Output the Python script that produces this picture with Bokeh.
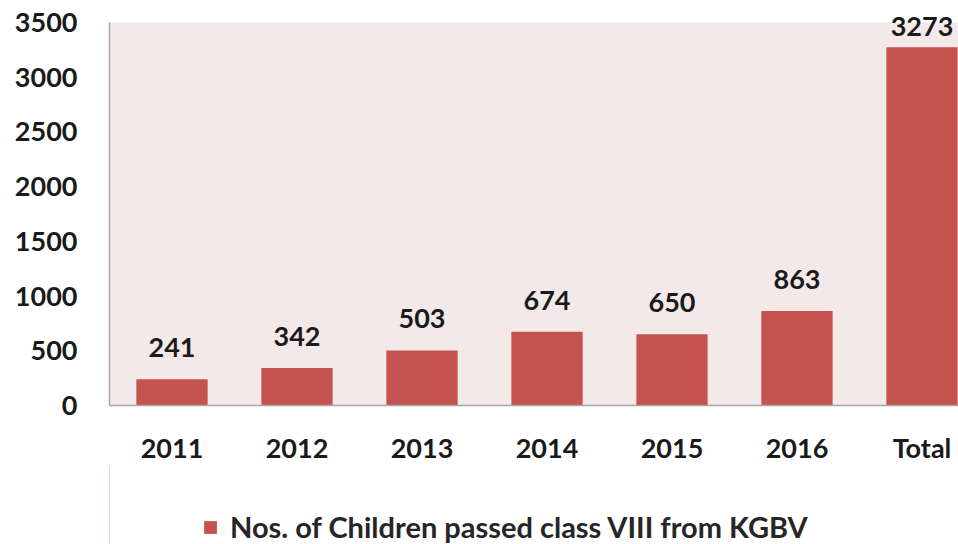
from bokeh.plotting import figure
from bokeh.layouts import column
from bokeh.models import (ColumnDataSource, Range1d, Legend, LegendItem, FixedTicker,
                          LabelSet, BoxAnnotation)
from bokeh.core.properties import value
from bokeh.embed import file_html
from bokeh.resources import INLINE

# Data
categories = ["2011", "2012", "2013", "2014", "2015", "2016", "Total"]
passed = [241, 342, 503, 674, 650, 863, 3273]
y_ticks = [0, 500, 1000, 1500, 2000, 2500, 3000, 3500]
series_name = "Nos. of Children passed class VIII from KGBV"

BAR = "#c4524f"
PLOT_BG = "#f3e9e9"
FONT = "Lato"
TEXT = "#1a1a1a"
Y_MAX = 3500

xpos = [i + 0.5 for i in range(len(categories))]
# the tallest label sits closer to its bar so it stays near the top edge
offsets = [11 if v > 0.9 * Y_MAX else 22 for v in passed]
src = ColumnDataSource(dict(x=xpos, y=passed, label=[str(v) for v in passed],
                            dy=offsets))

# main bar chart; range runs a little past the last tick so the top label has room
FRAME_H = 405
TOP_GAP = 22
p = figure(width=958, height=466, output_backend="svg", toolbar_location=None,
           x_range=Range1d(0, 6.792),
           y_range=Range1d(0, Y_MAX * FRAME_H / (FRAME_H - TOP_GAP)),
           min_border_left=109, min_border_right=0, min_border_top=0,
           min_border_bottom=61)
p.border_fill_color = "white"
p.background_fill_color = "white"
p.outline_line_color = None
p.grid.visible = False

# tinted plot area up to the last tick
p.add_layout(BoxAnnotation(bottom=0, top=Y_MAX, fill_color=PLOT_BG, fill_alpha=1,
                           line_color=None, level="underlay"))

p.vbar(x="x", top="y", width=0.57, source=src, fill_color=BAR, line_color=None)

labels = LabelSet(x="x", y="y", text="label", source=src, text_align="center",
                  text_baseline="bottom", y_offset="dy", text_font=value(FONT),
                  text_font_size="27px", text_font_style="bold", text_color=TEXT)
p.add_layout(labels)

p.xaxis.ticker = FixedTicker(ticks=xpos)
p.xaxis.major_label_overrides = {x: c for x, c in zip(xpos, categories)}
p.yaxis.ticker = FixedTicker(ticks=y_ticks)
p.yaxis.bounds = (0, Y_MAX)
for ax in (p.xaxis, p.yaxis):
    ax.major_tick_line_color = None
    ax.minor_tick_line_color = None
    ax.axis_line_color = "#a6a6a6"
    ax.axis_line_width = 1.5
    ax.major_label_text_font = FONT
    ax.major_label_text_font_size = "27px"
    ax.major_label_text_font_style = "bold"
    ax.major_label_text_color = TEXT
p.xaxis.major_label_standoff = 19
p.yaxis.major_label_standoff = 26

# legend strip underneath (no axes at all)
lg = figure(width=958, height=78, output_backend="svg", toolbar_location=None,
            x_range=Range1d(0, 1), y_range=Range1d(0, 1),
            x_axis_location=None, y_axis_location=None,
            min_border=0, outline_line_color=None)
lg.grid.visible = False
lg.background_fill_color = "white"
lg.border_fill_color = "white"
key = lg.vbar(x=[-10], top=[1], width=0.5, fill_color=BAR, line_color=None)

legend = Legend(items=[LegendItem(label=series_name, renderers=[key])],
                orientation="horizontal", location=(93, 0),
                label_text_font=FONT, label_text_font_size="29px",
                label_text_font_style="bold", label_text_color="#262626",
                glyph_width=16, glyph_height=16, label_standoff=12,
                margin=0, padding=0, border_line_color=None,
                background_fill_alpha=0)
lg.add_layout(legend, "center")

layout = column(p, lg, spacing=0)
open("out.html", "w").write(file_html(layout, INLINE))
